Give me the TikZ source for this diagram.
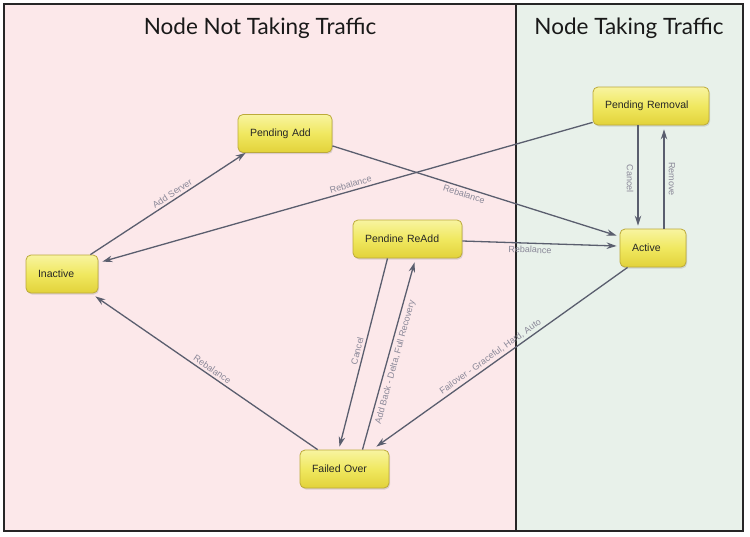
\documentclass[tikz,border=0pt]{standalone}
\usepackage{fontspec}
\setmainfont{Liberation Sans}
\newfontfamily\titlefont{Lato}
\usetikzlibrary{arrows.meta,shadows,calc}
\definecolor{pinkbg}{HTML}{FCE8EA}
\definecolor{greenbg}{HTML}{E8F1EA}
\definecolor{nodetop}{HTML}{F8F4A0}
\definecolor{nodemid}{HTML}{F0E860}
\definecolor{nodebot}{HTML}{E2D23A}
\definecolor{nodeborder}{HTML}{BCAA3A}
\definecolor{edgecol}{HTML}{5A5E6E}
\definecolor{labelcol}{HTML}{8A8898}
\begin{document}
\begin{tikzpicture}[x=1pt,y=-1pt,
 state/.style={draw=nodeborder, line width=0.8pt, rounded corners=5pt,
   top color=nodetop, bottom color=nodebot, middle color=nodemid,
   font=\fontsize{10.5}{12}\selectfont, text=black!85, inner xsep=12pt, inner ysep=0pt,
   minimum height=38pt, align=left,
   drop shadow={shadow xshift=1pt, shadow yshift=-1.5pt, opacity=0.25}},
 edge/.style={draw=edgecol, line width=1.3pt, -{Stealth[length=10pt,width=6.5pt]}},
 lbl/.style={font=\fontsize{9}{10}\selectfont, text=labelcol, inner sep=2.5pt},
 title/.style={font=\titlefont\fontsize{22.5}{26}\selectfont, text=black!90}
]
\useasboundingbox (0,0) rectangle (750,536);
\fill[pinkbg] (4,4) rectangle (516,531);
\fill[greenbg] (516,4) rectangle (743,531);
\draw[line width=2pt, black!85] (4,4) rectangle (743,531);
\draw[line width=2pt, black!85] (516,4) -- (516,531);

\node[title] (t1) at (260,28) {Node Not Taking Traffic};
\node[title] (t2) at (629,28) {Node Taking Traffic};

\node[state, text width=70pt] (pa) at (285,133.5) {Pending Add};
\node[state, text width=48pt] (in) at (62,274) {Inactive};
\node[state, text width=85pt] (ra) at (407.5,239) {Pendine ReAdd};
\node[state, text width=92pt] (pr) at (651,106) {Pending Removal};
\node[state, text width=42pt] (ac) at (653,248) {Active};
\node[state, text width=65pt] (fo) at (344.5,469) {Failed Over};

\draw[edge] ([xshift=-8pt]in.north east) -- node[lbl, sloped, above, pos=0.55] {Add Server} ([xshift=8pt]pa.south west);
\draw[edge] ([yshift=3pt]pr.south west) -- node[lbl, sloped, above, pos=0.49] {Rebalance} ([yshift=-7pt,xshift=4pt]in.north east);
\draw[edge] ([yshift=7pt]pa.south east) -- node[lbl, sloped, below, pos=0.47] {Rebalance} ([yshift=-7pt,xshift=-3pt]ac.north west);
\draw[edge] ([yshift=-2pt]ra.east) -- node[lbl, sloped, below, pos=0.44] {Rebalance} ([yshift=2pt,xshift=-3pt]ac.west);
\draw[edge] ([xshift=-13pt]pr.south) -- node[lbl, pos=0.53, xshift=-8pt, rotate=-90] {Cancel} ([xshift=-13pt,yshift=3pt]pr.south |- ac.north);
\draw[edge] ([xshift=11pt]ac.north) -- node[lbl, pos=0.5, xshift=8pt, rotate=-90] {Remove} ([xshift=11pt,yshift=-4pt]ac.north |- pr.south);
\draw[edge] ([xshift=-20pt]ra.south) -- node[lbl, sloped, above, pos=0.5] {Cancel} ([xshift=-5pt,yshift=3pt]fo.north);
\draw[edge] ([xshift=18pt]fo.north) -- node[lbl, sloped, below, pos=0.48, inner sep=3.5pt] {Add Back - Delta, Full Recovery} ([xshift=7pt,yshift=-4pt]ra.south);
\draw[edge] ([xshift=8pt]ac.south west) -- node[lbl, sloped, above, pos=0.53] {Failover - Graceful, Hard, Auto} ([xshift=-13pt,yshift=3pt]fo.north east);
\draw[edge] ([xshift=18pt]fo.north west) -- node[lbl, sloped, above, pos=0.49] {Rebalance} ([xshift=-3pt,yshift=-3pt]in.south east);
\end{tikzpicture}
\end{document}
